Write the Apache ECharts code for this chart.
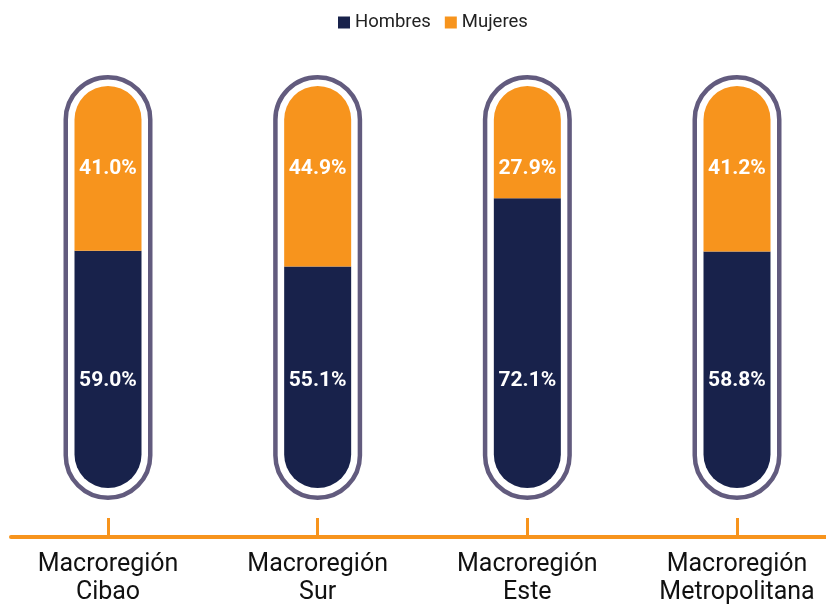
<!DOCTYPE html>
<html>
<head>
<meta charset="utf-8">
<script src="https://cdn.jsdelivr.net/npm/echarts@6/dist/echarts.min.js"></script>
<style>html,body{margin:0;padding:0;background:#fff}#c{width:826px;height:604px}</style>
</head>
<body>
<div id="c"></div>
<script>
var categories = ['Macroregión\nCibao', 'Macroregión\nSur', 'Macroregión\nEste', 'Macroregión\nMetropolitana'];
var hombres = [59.0, 55.1, 72.1, 58.8];
var mujeres = [41.0, 44.9, 27.9, 41.2];
var totals = hombres.map(function (h, i) { return Math.round(h + mujeres[i]); });

var NAVY = '#18224b', ORANGE = '#f7941d', OUTLINE = '#625b7e';
var chart = echarts.init(document.getElementById('c'));
chart.setOption({
  animation: false,
  textStyle: { fontFamily: 'Roboto' },
  legend: {
    data: ['Hombres', 'Mujeres'],
    top: 8, left: 333,
    itemWidth: 12, itemHeight: 12, itemGap: 14,
    icon: 'rect',
    textStyle: { fontSize: 18.5, color: '#222', fontFamily: 'Roboto' }
  },
  grid: [
    { left: 108, right: 89, top: 86, bottom: 67, outerBoundsMode: 'none', containLabel: false },
    { left: 108, right: 89, top: 75, bottom: 104, outerBoundsMode: 'none', containLabel: false },
    { left: 11, right: 0, top: 86, bottom: 67, outerBoundsMode: 'none', containLabel: false }
  ],
  xAxis: [
    { type: 'category', gridIndex: 0, data: categories, boundaryGap: false,
      axisLine: { show: true, onZero: false, lineStyle: { color: ORANGE, width: 4 } },
      axisTick: { show: true, inside: true, interval: 0, length: 19, lineStyle: { color: ORANGE, width: 3 } },
      axisLabel: { fontSize: 25, color: '#111', lineHeight: 28, margin: 14, interval: 0, fontFamily: 'Roboto' } },
    { type: 'category', gridIndex: 1, data: categories, boundaryGap: false, show: false },
    { type: 'value', gridIndex: 2, min: 0, max: 1,
      axisLine: { show: true, lineStyle: { color: ORANGE, width: 4 } },
      axisTick: { show: false }, axisLabel: { show: false }, splitLine: { show: false } }
  ],
  yAxis: [
    { type: 'value', gridIndex: 0, min: -12.19, max: 100, show: false, splitLine: { show: false } },
    { type: 'value', gridIndex: 1, min: 0, max: 100, show: false, splitLine: { show: false } },
    { type: 'value', gridIndex: 2, min: 0, max: 1, show: false, splitLine: { show: false } }
  ],
  series: [
    { name: 'Contorno', type: 'bar', xAxisIndex: 1, yAxisIndex: 1, data: totals, barWidth: 89,
      silent: true,
      itemStyle: { color: 'rgba(0,0,0,0)', borderColor: OUTLINE, borderWidth: 4.5, borderRadius: 44.5 } },
    { name: 'Hombres', type: 'bar', stack: 't', data: hombres, barWidth: 67,
      itemStyle: { color: NAVY, borderRadius: [0, 0, 34, 34] },
      label: { show: true, position: ['50%', '100%'], offset: [0, -107], align: 'center', verticalAlign: 'middle',
        color: '#fff', fontSize: 21, fontWeight: 'bold', fontFamily: 'Roboto',
        formatter: function (p) { return p.value.toFixed(1) + '%'; } } },
    { name: 'Mujeres', type: 'bar', stack: 't', data: mujeres, barWidth: 67,
      itemStyle: { color: ORANGE, borderRadius: [34, 34, 0, 0] },
      label: { show: true, position: ['50%', 0], offset: [0, 83], align: 'center', verticalAlign: 'middle',
        color: '#fff', fontSize: 21, fontWeight: 'bold', fontFamily: 'Roboto',
        formatter: function (p) { return p.value.toFixed(1) + '%'; } } }
  ]
});
</script>
</body>
</html>
